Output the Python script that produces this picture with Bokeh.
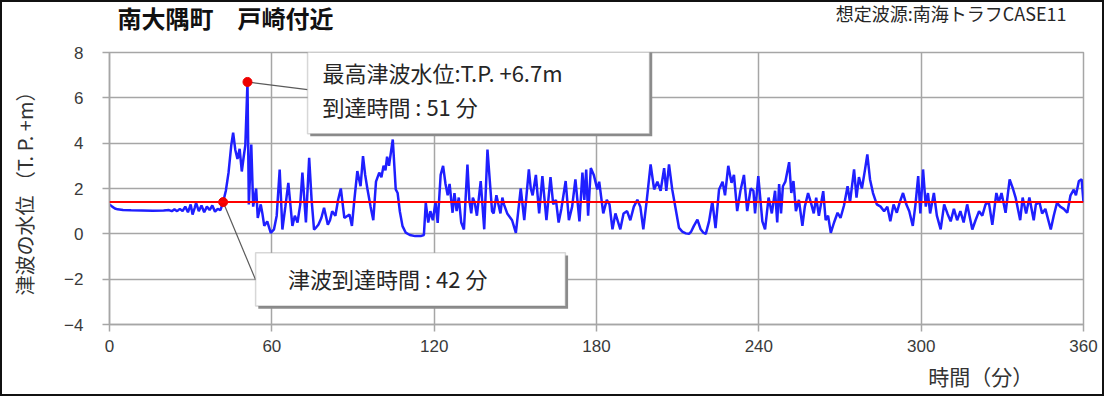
from bokeh.plotting import figure
from bokeh.layouts import column
from bokeh.models import Range1d, Label, BoxAnnotation, FixedTicker, Span, ColumnDataSource, LinearAxis
from bokeh.core.properties import value
from bokeh.embed import file_html
from bokeh.resources import INLINE

# ---------------- data ----------------
title_text = "南大隅町　戸崎付近"
source_text = "想定波源:南海トラフCASE11"
y_label = "津波の水位 （T. P. +m）"
x_label = "時間（分）"
x_ticks = [0, 60, 120, 180, 240, 300, 360]
y_ticks = [-4, -2, 0, 2, 4, 6, 8]

time_min = [
    0, 1, 2, 3, 5, 8, 12, 16, 20, 22, 23, 24, 25, 26, 27, 28, 29, 30, 30.7, 31.5, 32, 33, 34, 35, 36, 37, 38, 39, 40, 41, 42,
    43, 44, 45, 45.7, 46.5, 47.3, 48.1, 48.9, 49.6, 50.2, 51, 51.5, 52.4, 53.1, 54.2, 54.8, 55.9, 56.5, 57.2, 58.3, 59.6, 60.8, 61.8,
    62.9, 63.9, 65, 66.1, 67.6, 68.5, 69.5, 70.5, 71.3, 72.6, 73.8, 74.7, 75.6, 76.5, 77.2, 78.3, 79.3, 80.7, 81.5, 82.3, 83.5, 84.5,
    85.5, 86.8, 88.7, 89.6, 90.5, 91.6, 92.8, 93.7, 94.5, 95.3, 96.5, 97.5, 98.5, 99.7, 100.5, 101.3, 102, 102.6, 103.3, 104.7,
    105.8, 106.5, 107.3, 108.3,
    109.5, 111, 113, 115, 116.2, 116.9, 117.8, 118.6, 119.5, 120.5, 121.3, 122.4, 123.3, 124.2, 125, 125.7, 126.8, 127.5, 128.3,
    129.1, 130, 131, 132.3, 133, 133.7, 134.3, 135, 135.8, 137.2, 138.5, 139.7, 140.8, 141.4, 142, 143, 144.5, 145.2, 145.8, 147,
    148.8, 150.2, 152, 153.3, 155, 155.7, 156.4, 157.6, 158.8, 160, 161.5, 163, 164, 165, 166, 167, 168.6, 169.8, 171, 172.2, 173.7,
    174.8, 175.5, 176.2, 176.9, 177.9, 179, 180.3, 181, 182.5, 183.8, 184.8, 185.9, 187, 188.8, 190, 191.3, 192.5, 193.8, 195.1,
    196.2, 197.3, 198.5, 200, 201.3, 202.5, 203.7, 205, 205.8, 206.8, 208, 209.3, 210.5, 211.7, 213, 214.2, 215, 216, 217.3, 218.5,
    219.5, 220.4, 221.6, 222.8, 224, 225.3, 226.6, 227.5, 228.7, 229.9, 230.8, 232, 233.2, 234.5, 235.7, 237, 238, 238.6, 239.8,
    241.3, 242.3, 243.6, 244.8, 246, 246.8, 247.5, 248.2, 248.9, 249.8, 251.2, 252, 252.8, 253.7, 254.8, 256.1, 257, 258.2, 259.2,
    260.3, 261.2, 262.2, 263.8, 264.7, 265.6, 266.6, 267.8, 269.1, 270.2, 271.5, 272.8, 273.7, 275.2, 276.1, 277, 278.1, 279.2,
    280.1, 281.1, 282.2, 283.6, 285, 286.3, 287.5, 288.6, 289.8, 291, 292.1, 293.3, 294.5, 295.6, 296.9, 297.9, 298.9, 299.7,
    300.7, 301.7, 302.5, 303.3, 304.7, 305.8, 307.2, 308.5, 309.7, 310.9, 312.1, 313.3, 314.5, 315.7, 317, 318.9, 320.1, 321.4,
    322.6, 323.8, 325, 326.3, 327.8, 328.7, 329.7, 331.2, 332.7, 333.9, 334.9, 336.6, 337.5, 338.8, 340, 341.6, 342.4, 343.7,
    344.7, 345.9, 347.9, 349, 350.2, 351.4, 352.7, 354, 355.2, 356.4, 357.2, 358.3, 359.3, 360,
]
water_level = [
    1.3, 1.2, 1.12, 1.08, 1.05, 1.04, 1.03, 1.02, 1.03, 1.05, 1.0, 1.08, 1.0, 1.1, 1.0, 1.2, 0.95, 1.3, 0.85, 1.15, 1.37, 1.0, 1.25, 0.95, 1.2, 1.05, 1.25, 0.98, 1.1, 1.05, 1.4,
    1.9, 2.7, 3.9, 4.46, 3.7, 3.3, 3.75, 2.75, 3.4, 3.9, 6.7, 1.3, 3.94, 1.2, 2.0, 0.7, 1.3, 0.9, 0.35, 0.55, 0.04, 0.2, 0.8,
    2.84, 0.19, 1.2, 2.25, 0.35, 0.8, 0.5, 1.3, 2.7, 0.5, 3.35, 1.5, 0.19, 0.3, 0.4, 0.7, 1.15, 0.4, 0.6, 1.0, 0.8, 1.5,
    2.0, 0.7, 0.85, 0.35, 1.5, 2.77, 2.1, 3.43, 2.6, 2.0, 1.2, 0.6, 2.3, 2.7, 2.5, 3.0, 2.8, 3.4, 3.0, 4.16,
    1.96, 1.8, 1.0, 0.34,
    0.05, -0.05, -0.1, -0.1, -0.05, 1.37, 0.5, 1.0, 0.6, 1.4, 0.48, 2.6, 3.0, 2.2, 1.7, 2.2, 0.93, 1.8, 1.0,
    1.6, 0.5, 0.19, 3.06, 1.5, 0.9, 1.6, 1.37, 0.8, 2.33, 0.2, 3.72, 1.96, 1.0, 0.9, 1.7, 0.9, 1.6, 1.3, 0.9,
    0.6, 0.04, 2.0, 0.6, 2.84, 2.0, 1.7, 2.6, 0.9, 2.55, 0.6, 2.5, 1.3, 1.5, 0.5, 1.1, 2.33, 0.6, 1.2, 2.4, 0.55,
    2.7, 1.5, 2.84, 0.8, 2.9, 2.6, 1.96, 2.3, 0.9, 1.5, 1.3, 0.2, 0.9, 0.2, 0.9, 1.0, 0.6, 1.2, 1.5,
    1.2, 0.2, 1.4, 3.06, 1.96, 2.3, 1.9, 2.9, 1.9, 3.06, 1.95, 1.07, 0.26, 0.1, 0.02, 0.0, 0.1, 0.35, 0.63, 0.2,
    0.05, 0.0, 0.55, 1.44, 0.25, 1.96, 2.3, 1.7, 3.0, 2.25, 2.6, 1.0, 1.9, 2.6, 1.0, 2.0, 1.9, 0.9, 2.55,
    0.55, 0.2, 1.6, 0.9, 1.9, 0.5, 2.2, 0.9, 2.1, 2.3, 3.16, 1.8, 2.33, 1.0, 1.5, 0.35, 1.2, 1.8, 1.4,
    0.9, 1.6, 0.8, 1.88, 0.6, 0.8, 0.04, 0.5, 0.93, 0.7, 1.26, 2.1, 1.4, 2.84, 1.6, 2.5, 2.0, 2.8,
    3.5, 2.4, 1.8, 1.3, 1.2, 1.0, 1.2, 0.55, 1.3, 0.93, 1.4, 1.8, 1.3, 1.0, 0.35, 1.3, 2.55, 0.9,
    2.84, 1.2, 1.8, 0.9, 1.8, 0.8, 0.2, 1.3, 0.9, 0.55, 1.1, 0.6, 1.0, 0.5, 1.3, 0.19, 0.6, 1.0,
    0.8, 1.3, 1.4, 0.4, 1.8, 1.4, 1.8, 0.93, 2.4, 2.0, 1.6, 0.6, 1.6, 0.9, 1.6, 0.6, 1.3, 1.4,
    0.9, 1.1, 0.19, 0.8, 1.37, 1.2, 1.1, 0.93, 1.7, 1.95, 1.7, 2.33, 2.4, 1.4,
]

arrival_threshold = 1.4          # T.P. m
event_time = [42, 51]            # arrival, maximum (min)
event_level = [1.4, 6.7]
max_label = "最高津波水位:T.P. +6.7m"
max_time_label = "到達時間 : 51 分"
arrival_label = "津波到達時間 : 42 分"

# ---------------- layout constants ----------------
CJK = "Noto Sans CJK JP"
NUM = "Liberation Sans"
GRID = "#a6a6a6"
TXT = "#262626"
W = 1104
HEAD_H = 42
LEFT, RIGHT = 109, 21
FRAME_W = W - LEFT - RIGHT

# ---------------- header (title + source) ----------------
head = figure(width=W, height=HEAD_H, x_range=Range1d(0, FRAME_W), y_range=Range1d(0, HEAD_H),
              x_axis_type=None, y_axis_type=None, output_backend="svg", toolbar_location=None,
              min_border_left=LEFT, min_border_right=RIGHT, min_border_top=0, min_border_bottom=0)
head.grid.visible = False
head.outline_line_color = None
head.background_fill_color = None
head.border_fill_color = None
head.text(x=[8], y=[25], text=[title_text], text_font=value(CJK), text_font_size="24px",
          text_font_style="bold", text_baseline="middle", text_color="#111111")
head.text(x=[957], y=[30], text=[source_text], text_font=value(CJK), text_font_size="18px",
          text_align="right", text_baseline="middle", text_color=TXT)

# ---------------- main chart ----------------
p = figure(width=W, height=396 - HEAD_H, x_range=Range1d(0, 360), y_range=Range1d(-4, 8),
           output_backend="svg", toolbar_location=None,
           min_border_left=LEFT, min_border_right=RIGHT, min_border_top=10, min_border_bottom=72)
p.background_fill_color = "white"
p.border_fill_color = None
p.outline_line_color = GRID
p.outline_line_width = 1.5

p.xaxis.ticker = FixedTicker(ticks=x_ticks)
p.yaxis.ticker = FixedTicker(ticks=y_ticks)
p.grid.grid_line_color = GRID
p.grid.grid_line_width = 1.5
for ax in (p.xaxis[0], p.yaxis[0]):
    ax.axis_line_color = GRID
    ax.axis_line_width = 1.5
    ax.major_tick_line_color = GRID
    ax.major_tick_line_width = 1.5
    ax.major_tick_out = 7
    ax.major_tick_in = 0
    ax.minor_tick_line_color = None
    ax.major_label_text_font = NUM
    ax.major_label_text_font_size = "17px"
    ax.major_label_text_color = "#3a3a3a"

p.xaxis.major_label_standoff = 8
p.yaxis.major_label_standoff = 19
p.yaxis.axis_label = y_label
p.yaxis.axis_label_text_font = CJK
p.yaxis.axis_label_text_font_size = "20px"
p.yaxis.axis_label_text_font_style = "normal"
p.yaxis.axis_label_text_color = "#333333"
p.yaxis.axis_label_standoff = 22

# x-axis title, right-hand side under the tick labels
x_title_axis = LinearAxis(ticker=FixedTicker(ticks=[322]), major_label_overrides={322: x_label},
                          axis_line_color=None, major_tick_line_color=None,
                          minor_tick_line_color=None, major_label_standoff=0,
                          major_label_text_font=CJK, major_label_text_font_size="21px",
                          major_label_text_color="#333333")
p.add_layout(x_title_axis, "below")

src = ColumnDataSource(dict(t=time_min, h=water_level))
p.line("t", "h", source=src, line_color="#1f1fff", line_width=2.5)

p.add_layout(Span(location=arrival_threshold, dimension="width", line_color="#ff0000", line_width=2))

# connectors from events to annotation boxes
box1 = dict(left=73.2, right=199.6, top=8.2, bottom=4.42)
box2 = dict(left=54.0, right=168.5, top=-0.84, bottom=-3.18)
p.segment(x0=[event_time[1], event_time[0]], y0=[event_level[1], event_level[0]],
          x1=[box1["left"], box2["left"]], y1=[6.36, -2.03],
          line_color="#5a5a5a", line_width=1.2)

p.scatter(event_time, event_level, size=9, fill_color="#ee0000", line_color="#ee0000")

dx, dy = 1.0, 0.12
for b in (box1, box2):
    p.add_layout(BoxAnnotation(left=b["left"] + dx, right=b["right"] + dx, top=b["top"] - dy,
                               bottom=b["bottom"] - dy, fill_color="#8c8c8c", fill_alpha=1,
                               line_color=None))
    p.add_layout(BoxAnnotation(left=b["left"], right=b["right"], top=b["top"], bottom=b["bottom"],
                               fill_color="white", fill_alpha=1, line_color="#7a7a7a", line_width=1.5))

p.add_layout(Label(x=78.7, y=7.15, text=max_label, text_font=CJK, text_font_size="22px",
                   text_baseline="middle", text_color=TXT))
p.add_layout(Label(x=78.7, y=5.62, text=max_time_label, text_font=CJK, text_font_size="22px",
                   text_baseline="middle", text_color=TXT))
p.add_layout(Label(x=66.0, y=-1.94, text=arrival_label, text_font=CJK, text_font_size="22px",
                   text_baseline="middle", text_color=TXT))

page = column(head, p, spacing=0,
              styles={"outline": "2px solid #111", "outline-offset": "-2px",
                      "background-color": "white"})

open("out.html", "w").write(file_html(page, INLINE))
